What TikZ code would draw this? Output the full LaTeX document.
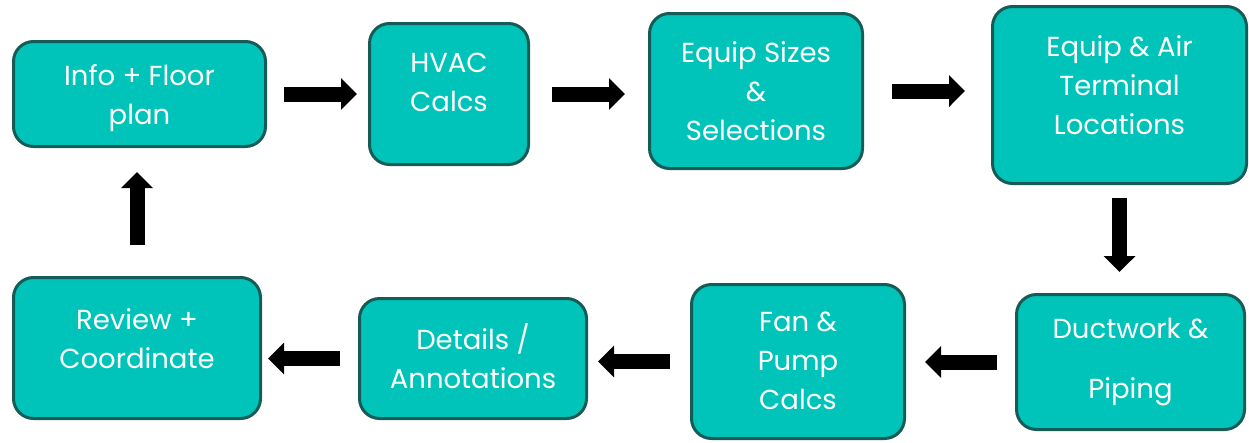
\documentclass[tikz,border=0pt]{standalone}
\usepackage{fontspec}
\setmainfont{Poppins}
\usepackage{xcolor}
\usetikzlibrary{arrows.meta, positioning}

\definecolor{tealfill}{RGB}{0,196,185}
\definecolor{tealline}{RGB}{22,92,86}

\begin{document}
\begin{tikzpicture}[
    x=1pt, y=-1pt,
    box/.style={draw=tealline, line width=3pt, rounded corners=20pt, fill=tealfill, inner sep=0pt},
    txt/.style={text=white, align=center, font=\fontsize{27.5}{39}\selectfont},
    bigarrow/.style={line width=15pt, -{Triangle[length=16pt, width=31pt]}}
]
\useasboundingbox (0,0) rectangle (1249,442);

% top row
\node[box, minimum width=252pt, minimum height=105pt] (info) at (139.5,94) {};
\node[box, minimum width=159pt, minimum height=141pt] (hvac) at (449,94) {};
\node[box, minimum width=213pt, minimum height=155pt] (equip) at (756,91) {};
\node[box, minimum width=254pt, minimum height=177pt] (terminal) at (1119.5,95) {};

% bottom row
\node[box, minimum width=228pt, minimum height=135pt] (duct) at (1130.5,362) {};
\node[box, minimum width=213pt, minimum height=154pt] (fan) at (798,361.5) {};
\node[box, minimum width=227pt, minimum height=120pt] (details) at (473,358.5) {};
\node[box, minimum width=247pt, minimum height=141pt] (review) at (137,348) {};

% texts
\node[txt] (info-t) at ([yshift=-4pt]info.center) {Info + Floor\\plan};
\node[txt] (hvac-t) at ([yshift=12pt]hvac.center) {HVAC\\Calcs};
\node[txt] (equip-t) at ([yshift=0pt]equip.center) {Equip Sizes\\\&\\Selections};
\node[txt] (terminal-t) at ([yshift=10pt]terminal.center) {Equip \& Air\\Terminal\\Locations};
\node[txt] (duct-t) at ([yshift=0pt]duct.center) {Ductwork \&\\[21pt]Piping};
\node[txt] (fan-t) at ([yshift=0.5pt]fan.center) {Fan \&\\Pump\\Calcs};
\node[txt] (details-t) at ([yshift=2.5pt]details.center) {Details /\\Annotations};
\node[txt] (review-t) at ([yshift=9pt]review.center) {Review +\\Coordinate};

% arrows
\draw[bigarrow, shorten <=17pt, shorten >=11pt] (info.east) -- (info.east -| hvac.west);
\draw[bigarrow, shorten <=22pt, shorten >=23pt] (hvac.east) -- (hvac.east -| equip.west);
\draw[bigarrow, shorten <=28pt, shorten >=26pt] (equip.east) -- (equip.east -| terminal.west);
\draw[bigarrow, shorten <=13pt, shorten >=21pt] (terminal.south) -- (terminal.south |- duct.north);
\draw[bigarrow, shorten <=18pt, shorten >=19pt] (duct.west) -- (duct.west -| fan.east);
\draw[bigarrow, shorten <=20pt, shorten >=10pt] (fan.west) -- (fan.west -| details.east);
\draw[bigarrow, shorten <=18pt, shorten >=6pt] (details.west) -- (details.west -| review.east);
\draw[bigarrow, shorten <=31pt, shorten >=24pt] (review.north) -- (review.north |- info.south);

\end{tikzpicture}
\end{document}
